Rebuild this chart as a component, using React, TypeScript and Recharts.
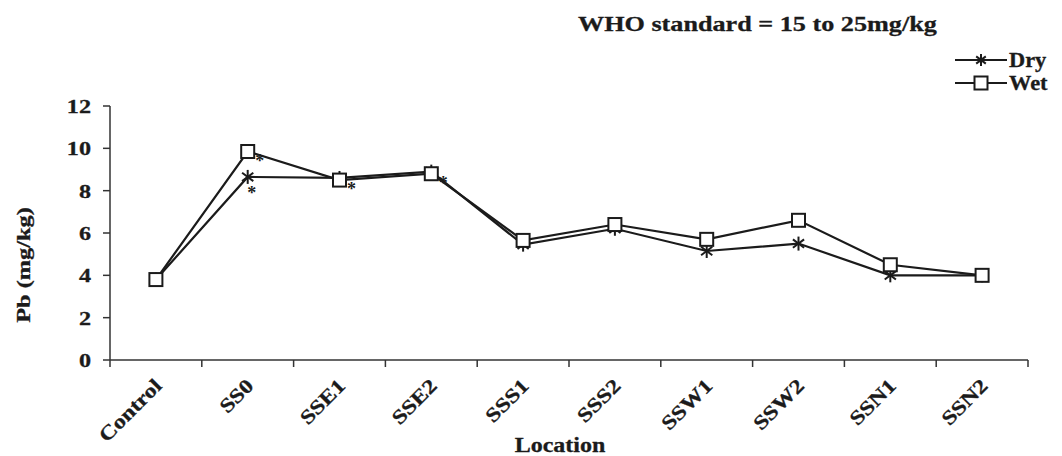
import React from "react";
import { LineChart, Line, XAxis, YAxis, Legend, LabelList } from "recharts";

const categories = ["Control", "SS0", "SSE1", "SSE2", "SSS1", "SSS2", "SSW1", "SSW2", "SSN1", "SSN2"];
const dryValues = [3.8, 8.65, 8.6, 8.9, 5.45, 6.2, 5.15, 5.5, 4.0, 4.0];
const wetValues = [3.8, 9.85, 8.5, 8.8, 5.65, 6.4, 5.7, 6.6, 4.5, 4.0];
const wetStars = ["", "*", "*", "*", "", "", "", "", "", ""];
const dryStars = ["", "*", "", "", "", "", "", "", "", ""];
const yTicks = [0, 2, 4, 6, 8, 10, 12];
const bounds = [0, 1, 2, 3, 4, 5, 6, 7, 8, 9, 10];

// idx puts each location in the middle of its slot between boundary ticks
const data = categories.map((name, i) => ({
  name,
  idx: i + 0.5,
  dry: dryValues[i],
  wet: wetValues[i],
  dryStar: dryStars[i],
  wetStar: wetStars[i],
}));

const FONT = "'Liberation Serif', 'Times New Roman', serif";
const INK = "#1b1b1b";

// wide bold serif text (the source font is wider than Times)
function Wide({ x, y, size = 20, sx = 1.25, angle = 0, anchor = "start", children }: any) {
  return (
    <text
      transform={`translate(${x},${y}) rotate(${angle}) scale(${sx},1)`}
      textAnchor={anchor}
      fontFamily={FONT}
      fontWeight="bold"
      fontSize={size}
      fill={INK}
      stroke={INK}
      strokeWidth={0.3}
    >
      {children}
    </text>
  );
}

const Square = ({ cx, cy }: any) =>
  cx == null ? null : (
    <rect x={cx - 6.5} y={cy - 6.5} width={13} height={13} fill="#fff" stroke={INK} strokeWidth={2} />
  );

const Star = ({ cx, cy, s = 7 }: any) =>
  cx == null ? null : (
    <g stroke={INK} strokeWidth={2}>
      <line x1={cx} y1={cy - s} x2={cx} y2={cy + s} />
      <line x1={cx - s * 0.8} y1={cy - s * 0.6} x2={cx + s * 0.8} y2={cy + s * 0.6} />
      <line x1={cx - s * 0.8} y1={cy + s * 0.6} x2={cx + s * 0.8} y2={cy - s * 0.6} />
    </g>
  );

const YTick = ({ x, y, payload }: any) => (
  <Wide x={x - 10} y={y + 7} size={19.5} sx={1.24} anchor="end">
    {payload.value}
  </Wide>
);

const XTick = ({ x, y, payload }: any) => (
  <Wide x={x + 7} y={y + 19} size={20} sx={1.2} angle={-45} anchor="end">
    {payload.value}
  </Wide>
);

// boundary tick mark between locations
const BoundTick = ({ x, y }: any) => <line x1={x} y1={y} x2={x} y2={y + 7} stroke="#333" strokeWidth={1.5} />;

const starLabel = (dx: number, dy: number) => (props: any) => {
  const { x, y, value } = props;
  if (!value) return null;
  return (
    <text x={x + dx} y={y + dy} fontFamily={FONT} fontWeight="bold" fontSize={18} fill={INK} textAnchor="middle">
      {value}
    </text>
  );
};

const LegendBox = () => (
  <svg width={100} height={50}>
    {[
      { label: "Dry", Mark: Star },
      { label: "Wet", Mark: Square },
    ].map((it, i) => {
      const cy = 8 + i * 23;
      return (
        <g key={it.label}>
          <line x1={2} y1={cy} x2={54} y2={cy} stroke={INK} strokeWidth={2} />
          <it.Mark cx={28} cy={cy} s={6} />
          <Wide x={56} y={cy + 7} size={20} sx={1.12}>
            {it.label}
          </Wide>
        </g>
      );
    })}
  </svg>
);

export default function App() {
  return (
    <div style={{ position: "absolute", left: 0, top: 0, background: "#fff" }}>
      <LineChart width={1062} height={456} data={data} margin={{ top: 106, right: 34, left: 0, bottom: 0 }}>
        <XAxis
          xAxisId="a"
          type="number"
          dataKey="idx"
          domain={[0, 10]}
          ticks={bounds}
          interval={0}
          tick={<BoundTick />}
          tickLine={false}
          tickSize={0}
          tickMargin={0}
          height={8}
          stroke="#333"
          strokeWidth={1.5}
        />
        <XAxis
          xAxisId="z"
          dataKey="name"
          height={88}
          padding={{ left: 46, right: 46 }}
          axisLine={false}
          tickLine={false}
          tickSize={0}
          tickMargin={0}
          interval={0}
          tick={<XTick />}
        />
        <YAxis
          width={110}
          domain={[0, 12]}
          ticks={yTicks}
          interval={0}
          tickSize={7}
          tick={<YTick />}
          stroke="#333"
          strokeWidth={1.5}
        />
        <Legend
          layout="horizontal"
          verticalAlign="middle"
          align="center"
          wrapperStyle={{ position: "absolute", top: 52, left: 953, width: 100 }}
          content={() => <LegendBox />}
        />
        <Line xAxisId="a" dataKey="dry" stroke={INK} strokeWidth={2.2} dot={<Star />} isAnimationActive={false}>
          <LabelList dataKey="dryStar" content={starLabel(4, 22)} />
        </Line>
        <Line xAxisId="a" dataKey="wet" stroke={INK} strokeWidth={2.2} dot={<Square />} isAnimationActive={false}>
          <LabelList dataKey="wetStar" content={starLabel(12, 15)} />
        </Line>
        <Wide x={578} y={31} size={22} sx={1.19}>
          WHO standard  = 15 to 25mg/kg
        </Wide>
        <Wide x={30} y={265} size={19} sx={1.28} angle={-90} anchor="middle">
          Pb (mg/kg)
        </Wide>
        <Wide x={560} y={452} size={20} sx={1.2} anchor="middle">
          Location
        </Wide>
      </LineChart>
    </div>
  );
}
